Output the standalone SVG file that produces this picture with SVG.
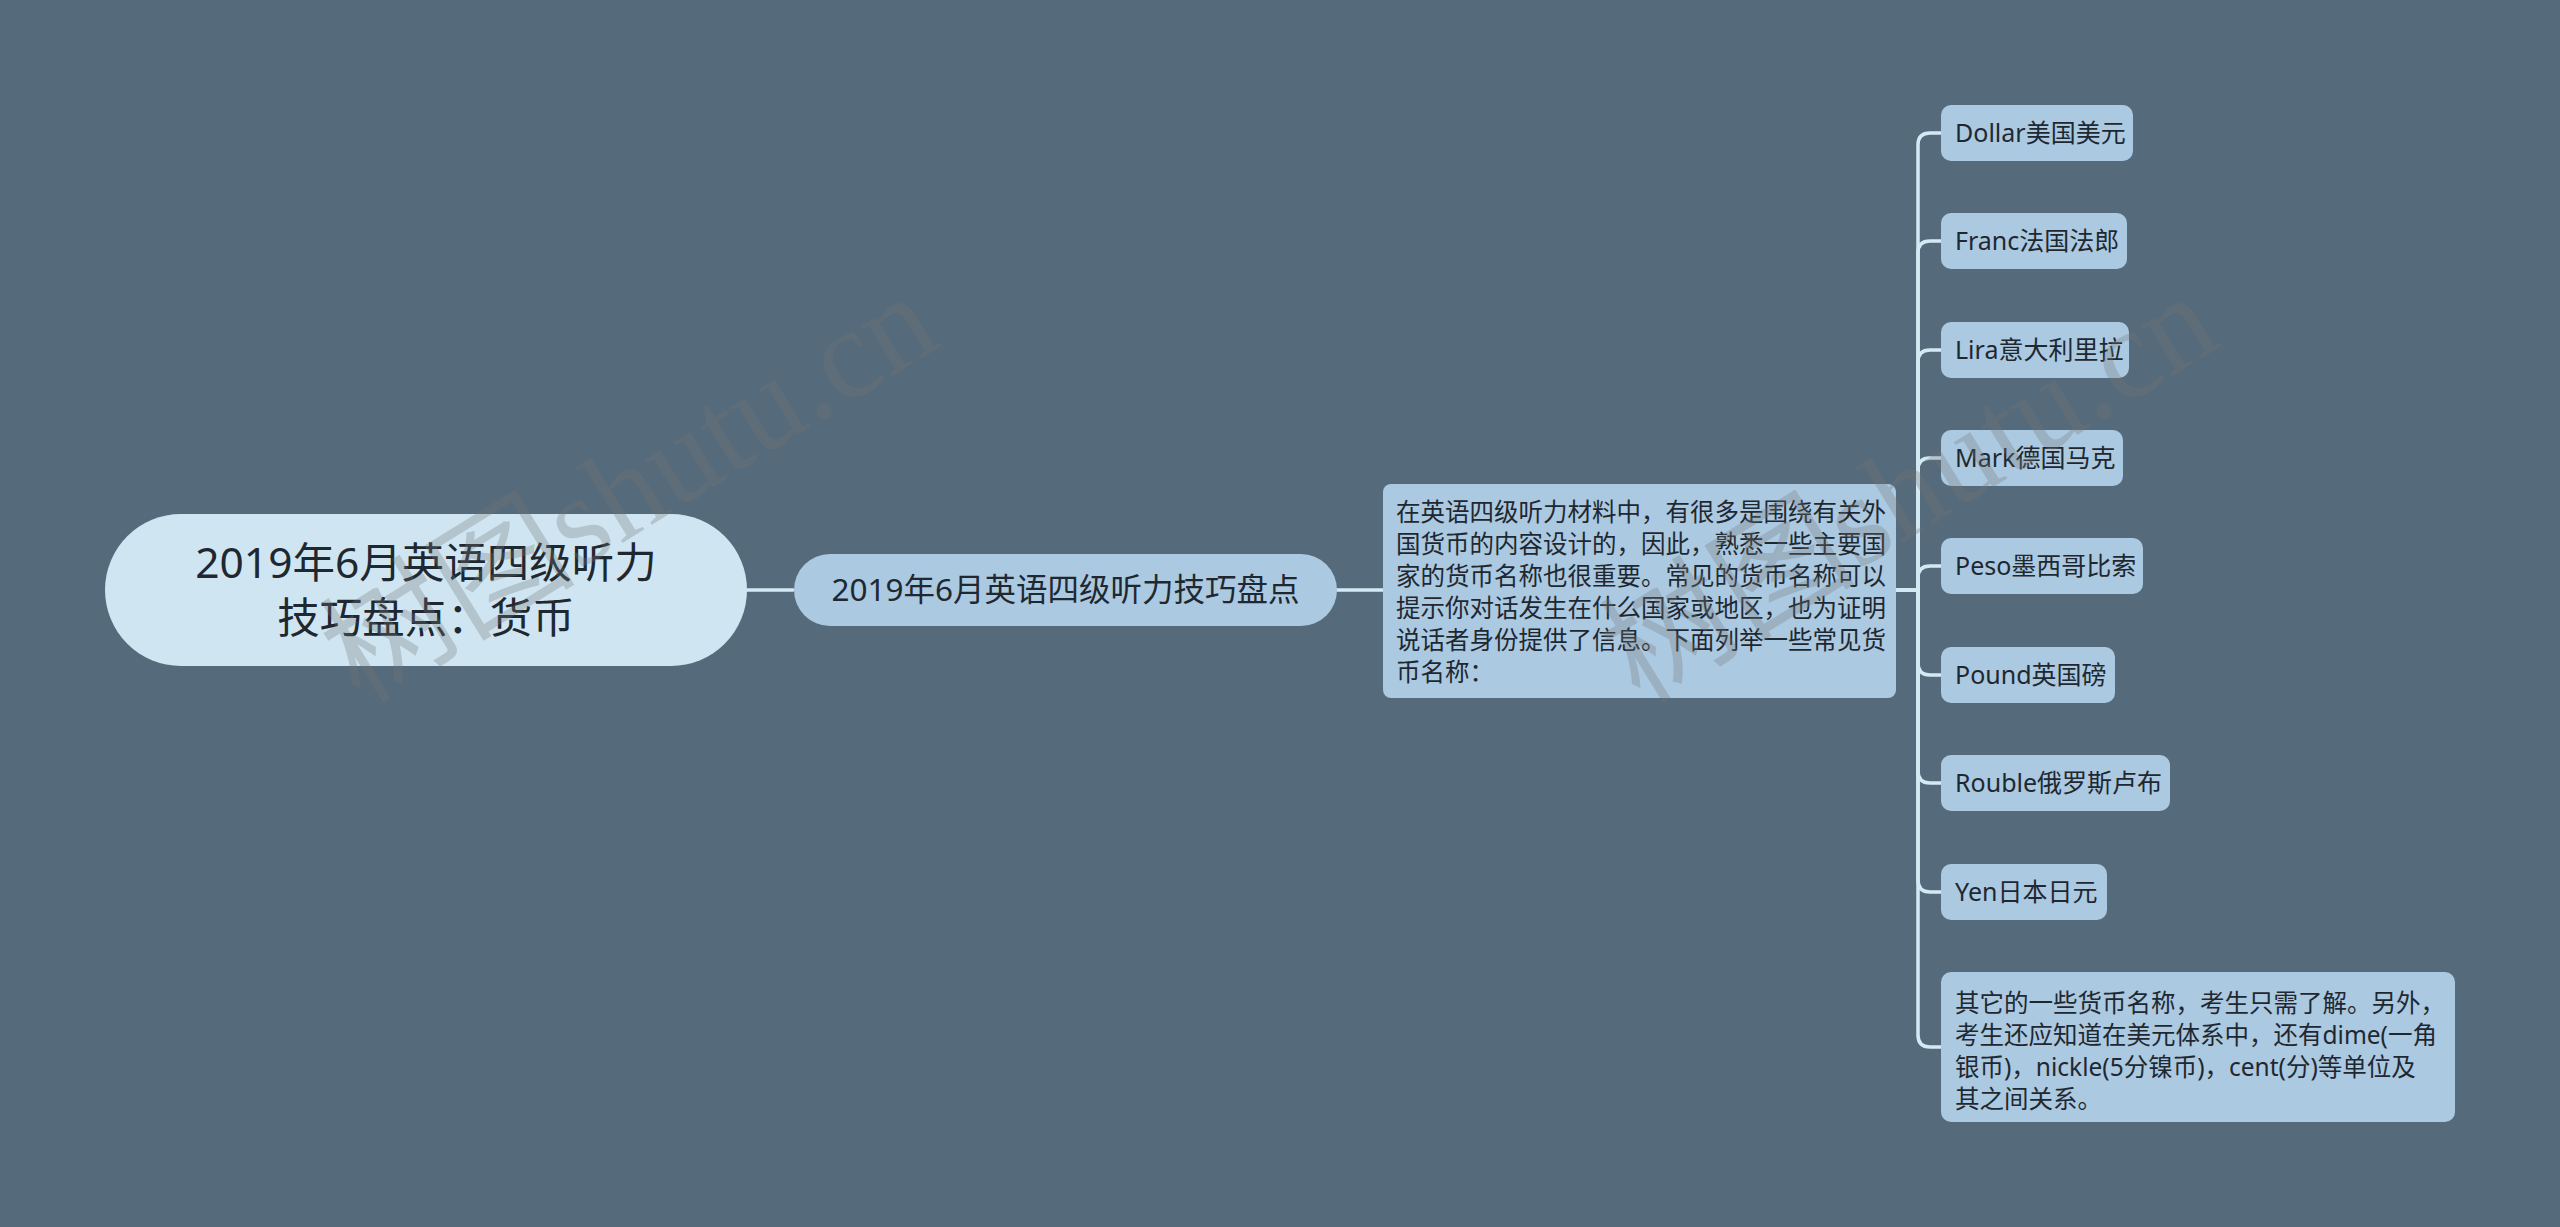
<svg xmlns="http://www.w3.org/2000/svg" width="2560" height="1227" viewBox="0 0 2560 1227">
<style>
.t{font-family:"Noto Sans","Noto Sans CJK SC",sans-serif;fill:#1f2830}
.leaf{fill:#abc9e1}
.lt{font-size:25px}
.pt{font-size:24.5px}
.wm{font-family:"Liberation Serif","Noto Sans CJK SC",serif;font-size:128px;fill:#777;opacity:0.3}
.c{fill:none;stroke:#d3eaf5;stroke-width:3.5;stroke-linecap:round}
</style>
<rect width="2560" height="1227" fill="#556a7a"/>
<g id="connectors">
<path class="c" d="M747 590H793"/>
<path class="c" d="M1337 590H1383"/>
<path class="c" d="M1896 590H1918V145Q1918 133 1930 133H1941"/>
<path class="c" d="M1896 590H1918V253Q1918 241 1930 241H1941"/>
<path class="c" d="M1896 590H1918V362Q1918 350 1930 350H1941"/>
<path class="c" d="M1896 590H1918V470Q1918 458 1930 458H1941"/>
<path class="c" d="M1896 590H1918V578Q1918 566 1930 566H1941"/>
<path class="c" d="M1896 590H1918V663Q1918 675 1930 675H1941"/>
<path class="c" d="M1896 590H1918V771Q1918 783 1930 783H1941"/>
<path class="c" d="M1896 590H1918V880Q1918 892 1930 892H1941"/>
<path class="c" d="M1896 590H1918V1035Q1918 1047 1930 1047H1941"/>
</g>
<g id="root">
<rect x="105" y="514" width="642" height="152" rx="76" fill="#cfe6f2"/>
<text class="t" font-size="42.5" text-anchor="middle" x="426" y="578">2019年6月英语四级听力</text>
<text class="t" font-size="42.5" text-anchor="middle" x="426" y="633">技巧盘点：货币</text>
</g>
<g id="main">
<rect x="794" y="554" width="543" height="72" rx="36" fill="#abc9e1"/>
<text class="t" font-size="31.5" text-anchor="middle" x="1065.5" y="601">2019年6月英语四级听力技巧盘点</text>
</g>
<g id="intro">
<rect x="1383" y="484" width="513" height="214" rx="8" fill="#abc9e1"/>
<text class="t pt" x="1396" y="521">在英语四级听力材料中，有很多是围绕有关外</text>
<text class="t pt" x="1396" y="553">国货币的内容设计的，因此，熟悉一些主要国</text>
<text class="t pt" x="1396" y="585">家的货币名称也很重要。常见的货币名称可以</text>
<text class="t pt" x="1396" y="617">提示你对话发生在什么国家或地区，也为证明</text>
<text class="t pt" x="1396" y="649">说话者身份提供了信息。下面列举一些常见货</text>
<text class="t pt" x="1396" y="681">币名称：</text>
</g>
<g id="dollar"><rect class="leaf" x="1941" y="105" width="192" height="56" rx="10"/><text class="t lt" x="1955" y="142">Dollar美国美元</text></g>
<g id="franc"><rect class="leaf" x="1941" y="213" width="186" height="56" rx="10"/><text class="t lt" x="1955" y="250">Franc法国法郎</text></g>
<g id="lira"><rect class="leaf" x="1941" y="322" width="188" height="56" rx="10"/><text class="t lt" x="1955" y="359">Lira意大利里拉</text></g>
<g id="mark"><rect class="leaf" x="1941" y="430" width="182" height="56" rx="10"/><text class="t lt" x="1955" y="467">Mark德国马克</text></g>
<g id="peso"><rect class="leaf" x="1941" y="538" width="202" height="56" rx="10"/><text class="t lt" x="1955" y="575">Peso墨西哥比索</text></g>
<g id="pound"><rect class="leaf" x="1941" y="647" width="174" height="56" rx="10"/><text class="t lt" x="1955" y="684">Pound英国磅</text></g>
<g id="rouble"><rect class="leaf" x="1941" y="755" width="229" height="56" rx="10"/><text class="t lt" x="1955" y="792">Rouble俄罗斯卢布</text></g>
<g id="yen"><rect class="leaf" x="1941" y="864" width="166" height="56" rx="10"/><text class="t lt" x="1955" y="901">Yen日本日元</text></g>
<g id="other">
<rect class="leaf" x="1941" y="972" width="514" height="150" rx="10"/>
<text class="t pt" x="1955" y="1012">其它的一些货币名称，考生只需了解。另外，</text>
<text class="t pt" x="1955" y="1044">考生还应知道在美元体系中，还有dime(一角</text>
<text class="t pt" x="1955" y="1076">银币)，nickle(5分镍币)，cent(分)等单位及</text>
<text class="t pt" x="1955" y="1108">其之间关系。</text>
</g>
<g id="watermarks">
<text class="wm" transform="translate(360 705) rotate(-31.7)">树图shutu.cn</text>
<text class="wm" transform="translate(1640 705) rotate(-31.7)">树图shutu.cn</text>
</g>
</svg>
